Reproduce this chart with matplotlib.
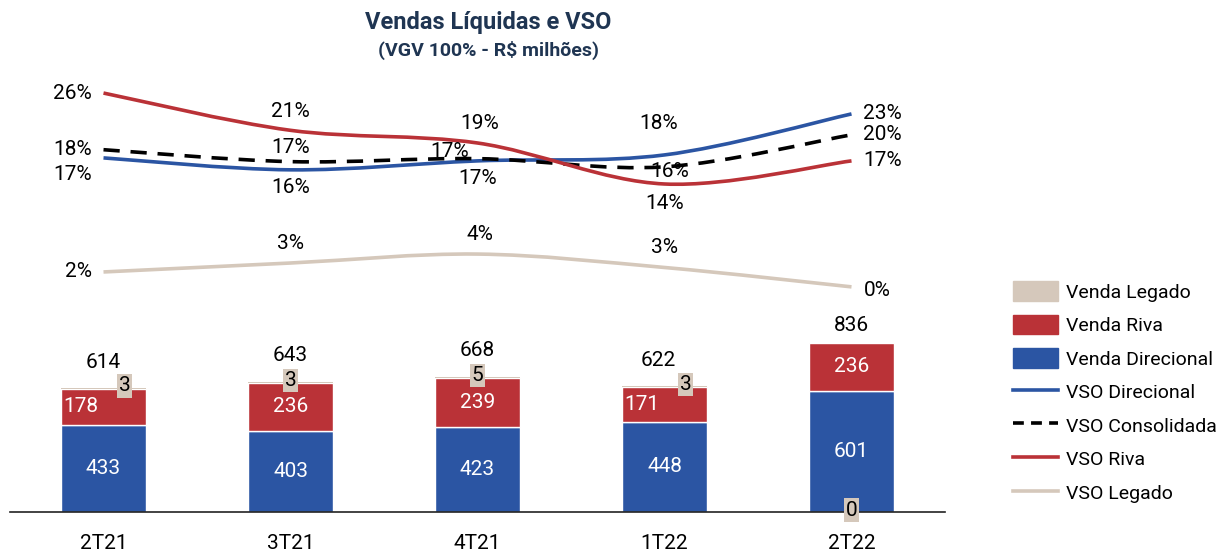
import matplotlib.pyplot as plt
import numpy as np
from matplotlib.path import Path
from matplotlib.patches import PathPatch, Patch
from matplotlib.lines import Line2D

plt.rcParams['font.family'] = ['Roboto', 'DejaVu Sans']

# dados
quarters = ['2T21', '3T21', '4T21', '1T22', '2T22']
venda_direcional = [433, 403, 423, 448, 601]
venda_riva = [178, 236, 239, 171, 236]
venda_legado = [3, 3, 5, 3, 0]
venda_total = [614, 643, 668, 622, 836]

vso_direcional = [17.3, 15.7, 16.9, 17.7, 23.2]
vso_consolidada = [18.4, 16.8, 17.2, 16.1, 20.4]
vso_riva = [26.0, 21.0, 19.3, 13.8, 16.9]
vso_legado = [2.0, 3.2, 4.4, 2.6, 0.0]

# cores
c_dir = '#2B55A3'
c_riva = '#BA3237'
c_leg = '#D5C8BB'
c_title = '#1F3552'


def smooth_path(xs, ys):
    # curva suave (estilo excel) com beziers cubicas passando pelos pontos
    pts = np.column_stack([xs, ys]).astype(float)
    ext = np.vstack([pts[0], pts, pts[-1]])
    verts = [pts[0]]
    codes = [Path.MOVETO]
    for k in range(1, len(ext) - 2):
        p0, p1, p2, p3 = ext[k - 1], ext[k], ext[k + 1], ext[k + 2]
        verts += [p1 + (p2 - p0) / 6, p2 - (p3 - p1) / 6, p2]
        codes += [Path.CURVE4] * 3
    return Path(verts, codes)


fig = plt.figure(figsize=(12.32, 5.54), dpi=100)
ax = fig.add_axes([10 / 1232, 1 - 512 / 554, 935 / 1232, 432 / 554])
x = np.arange(len(quarters))
w = 0.45

ax.bar(x, venda_direcional, width=w, color=c_dir, edgecolor='white', linewidth=1)
ax.bar(x, venda_riva, width=w, bottom=venda_direcional, color=c_riva, edgecolor='white', linewidth=1)
base3 = np.array(venda_direcional) + np.array(venda_riva)
ax.bar(x, venda_legado, width=w, bottom=base3, color=c_leg, linewidth=0)

fs = 15
ax.set_xlim(-0.5, 4.5)
ax.set_ylim(0, 432 / 0.202)
ax.set_xticks(x)
ax.set_xticklabels(quarters, fontsize=fs)
ax.tick_params(axis='x', length=0, pad=16)
ax.set_yticks([])
for s in ['top', 'left', 'right']:
    ax.spines[s].set_visible(False)
ax.spines['bottom'].set_color('#222222')
ax.spines['bottom'].set_linewidth(1.2)

riva_dx = [-0.12, 0, 0, -0.12, 0]
leg_dx = [21, 0, 0, 21, 0]
leg_at_base = [False, False, False, False, True]
tot_dx = [0, 0, 0, -6, 0]
tot_dy = [25, 27, 27, 26, 18]
for i in range(len(quarters)):
    d = venda_direcional[i]
    r = venda_riva[i]
    ax.text(i, d / 2, str(d), color='white', ha='center', va='center', fontsize=fs)
    ax.text(i + riva_dx[i], d + r / 2, str(r), color='white', ha='center', va='center', fontsize=fs)
    ly = 0 if leg_at_base[i] else base3[i] + venda_legado[i]
    ax.annotate(str(venda_legado[i]), (i, ly), xytext=(leg_dx[i], 2), textcoords='offset pixels',
                ha='center', va='center', fontsize=fs, color='black',
                bbox=dict(boxstyle='square,pad=0.1', fc=c_leg, ec='none'))
    ax.annotate(str(venda_total[i]), (i, venda_total[i]), xytext=(tot_dx[i], tot_dy[i]),
                textcoords='offset pixels', ha='center', va='center', fontsize=fs)

# linhas VSO
ax2 = ax.twinx()
ax2.set_ylim(-30.2, 27.75)
ax2.set_xlim(-0.5, 4.5)
ax2.axis('off')

series = [
    (vso_direcional, c_dir, '-'),
    (vso_consolidada, 'black', (0, (4.5, 3))),
    (vso_riva, c_riva, '-'),
    (vso_legado, c_leg, '-'),
]
for vals, col, ls in series:
    ax2.add_patch(PathPatch(smooth_path(x, vals), fill=False, edgecolor=col, lw=2.6,
                            linestyle=ls, capstyle='butt'))

# deslocamentos dos rotulos (pixels)
offs = {
    'dir': [(-12, -17), (0, -18), (0, -18), (-6, 31), (12, 0)],
    'cons': [(-12, 0), (0, 14), (-28, 7), (5, -5), (12, 0)],
    'riva': [(-12, 0), (0, 19), (2, 19), (0, -20), (12, 0)],
    'leg': [(-12, 0), (0, 20), (2, 20), (0, 20), (12, -4)],
}
for key, vals in [('dir', vso_direcional), ('cons', vso_consolidada),
                  ('riva', vso_riva), ('leg', vso_legado)]:
    for i, v in enumerate(vals):
        dx, dy = offs[key][i]
        ha = 'right' if i == 0 else ('left' if i == len(vals) - 1 else 'center')
        ax2.annotate('%d%%' % round(v), (i, v), xytext=(dx, dy), textcoords='offset pixels',
                     ha=ha, va='center', fontsize=fs)

fig.text(488 / 1232, 1 - 22 / 554, 'Vendas Líquidas e VSO', ha='center', va='center',
         fontsize=17, fontweight='bold', color=c_title)
fig.text(488 / 1232, 1 - 50 / 554, '(VGV 100% - R$ milhões)', ha='center', va='center',
         fontsize=14, fontweight='bold', color=c_title)

handles = [
    Patch(color=c_leg, label='Venda Legado'),
    Patch(color=c_riva, label='Venda Riva'),
    Patch(color=c_dir, label='Venda Direcional'),
    Line2D([], [], color=c_dir, lw=2.6, label='VSO Direcional'),
    Line2D([], [], color='black', lw=2.6, ls=(0, (3, 2)), label='VSO Consolidada'),
    Line2D([], [], color=c_riva, lw=2.6, label='VSO Riva'),
    Line2D([], [], color=c_leg, lw=2.6, label='VSO Legado'),
]
fig.legend(handles=handles, loc='upper left', bbox_to_anchor=(1013 / 1232, 1 - 281 / 554),
           frameon=False, fontsize=14, handlelength=2.3, handleheight=1.2,
           labelspacing=0.67, handletextpad=0.41, borderaxespad=0, borderpad=0)

fig.savefig('out.png', dpi=100)
